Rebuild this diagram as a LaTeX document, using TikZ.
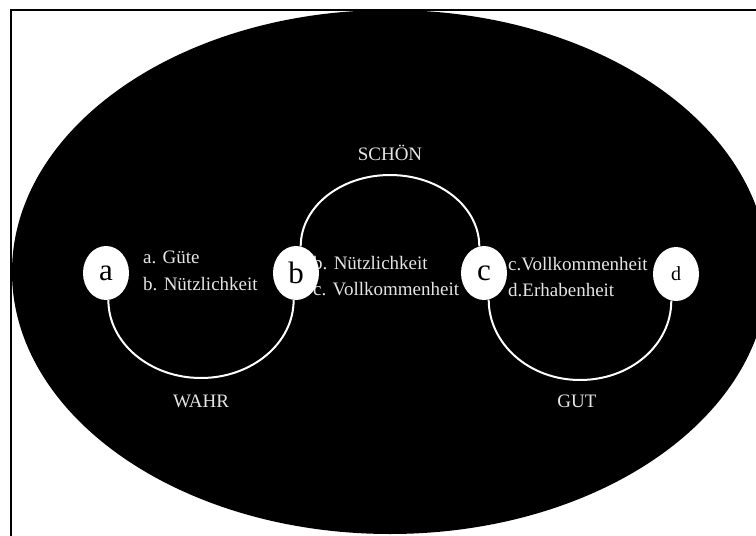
\documentclass[tikz,border=0pt]{standalone}
\usepackage{fontspec}
\setmainfont{Liberation Serif}
\usetikzlibrary{shapes.geometric}
\begin{document}
\begin{tikzpicture}[x=1pt,y=-1pt,
 vertex/.style={ellipse,fill=white,minimum width=46pt,minimum height=54pt,inner sep=0pt,font=\fontsize{31}{31}\selectfont},
 lbl/.style={text=white!90!black,inner sep=0pt,font=\fontsize{19}{22}\selectfont,anchor=base west},
 ttl/.style={text=white!90!black,inner sep=0pt,font=\fontsize{19}{22}\selectfont,anchor=base},
 conn/.style={draw=white,line width=2pt}]
\useasboundingbox (0,0) rectangle (756,536);
\begin{scope}
\clip (0,0) rectangle (756,536);
\fill[black] (390,272) ellipse [x radius=378, y radius=262];
\draw[line width=1.5pt] (11,10) rectangle (780,560);
\end{scope}
% texts
\node[lbl] (t1) at (143,263) {a. Güte};
\node[lbl] (t2) at (143,290) {b. Nützlichkeit};
\node[lbl] (t3) at (313,269) {b. Nützlichkeit};
\node[lbl] (t4) at (313,295) {c. Vollkommenheit};
\node[lbl] (t5) at (508,270) {c.Vollkommenheit};
\node[lbl] (t6) at (508,296) {d.Erhabenheit};
\node[ttl] (schoen) at (390,160) {SCHÖN};
\node[ttl] (wahr) at (201,407) {WAHR};
\node[ttl] (gut) at (577,407) {GUT};
% nodes
\node[vertex] (a) at (106,273) {a};
\node[vertex] (b) at (296,273) {b};
\node[vertex] (c) at (484,273) {c};
\node[vertex,font=\fontsize{20}{20}\selectfont] (d) at (676,274) {d};
% arc extremes
\coordinate (wb) at (201,378);
\coordinate (st) at (390,175);
\coordinate (gb) at (580,380);
% arcs
\draw[conn] (a.-85) .. controls +(0,43) and +(-51,0) .. (wb)
                    .. controls +(51,0) and +(0,43) .. (b.-95);
\draw[conn] (b.80) .. controls +(0,-39) and +(-50,0) .. (st)
                   .. controls +(50,0) and +(0,-39) .. (c.100);
\draw[conn] (c.-80) .. controls +(0,44) and +(-51,0) .. (gb)
                    .. controls +(51,0) and +(0,44) .. (d.-100);
\end{tikzpicture}
\end{document}
